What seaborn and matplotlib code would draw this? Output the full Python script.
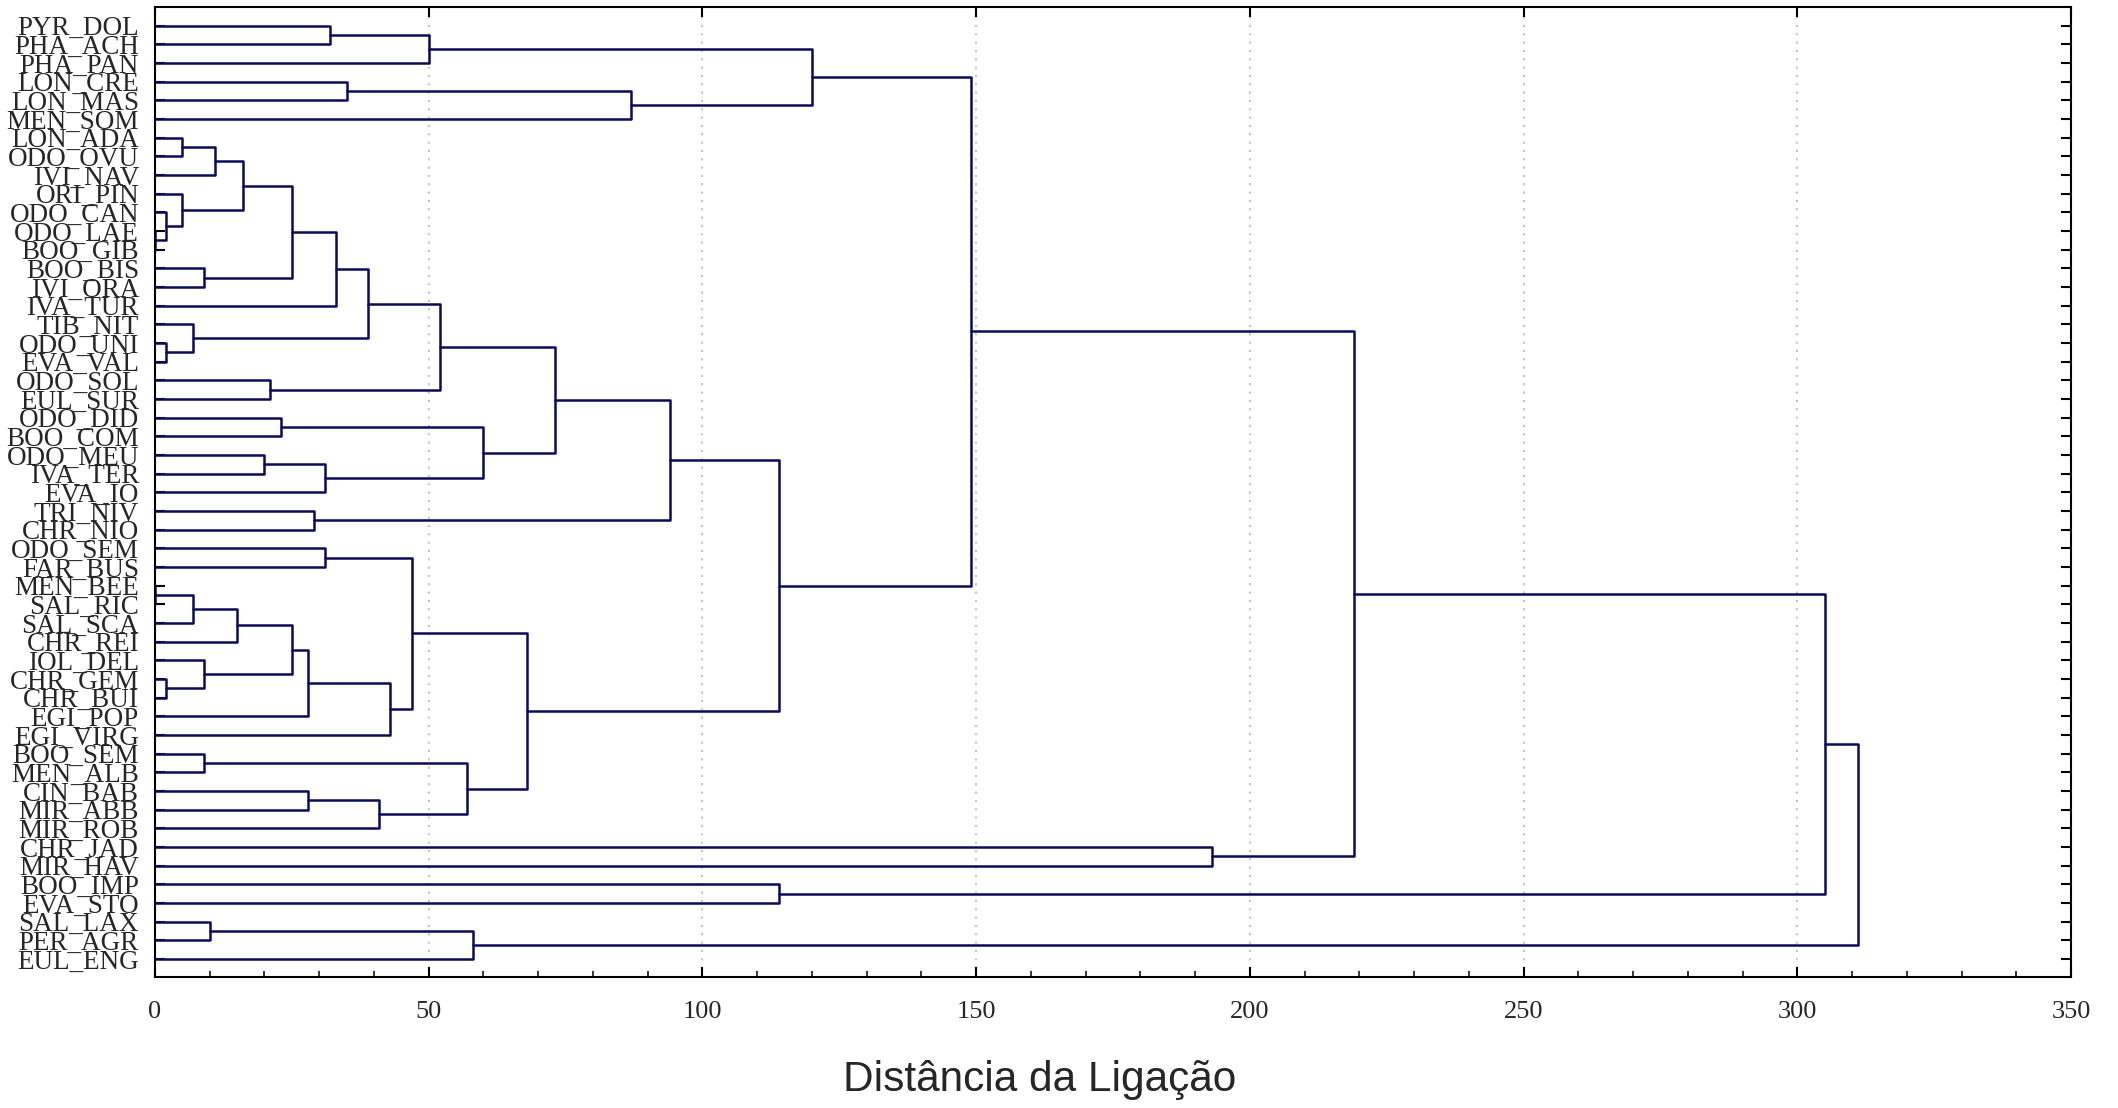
import numpy as np
import pandas as pd
import matplotlib
matplotlib.use("Agg")
import matplotlib.pyplot as plt
import seaborn as sns

# leaf order, top to bottom
leaves = [
    "PYR_DOL", "PHA_ACH", "PHA_PAN", "LON_CRE", "LON_MAS", "MEN_SOM",
    "LON_ADA", "ODO_OVU", "IVI_NAV", "ORI_PIN", "ODO_CAN", "ODO_LAE",
    "BOO_GIB", "BOO_BIS", "IVI_ORA", "IVA_TUR", "TIB_NIT", "ODO_UNI",
    "EVA_VAL", "ODO_SOL", "EUL_SUR", "ODO_DID", "BOO_COM", "ODO_MEU",
    "IVA_TER", "EVA_IO", "TRI_NIV", "CHR_NIO", "ODO_SEM", "FAR_BUS",
    "MEN_BEE", "SAL_RIC", "SAL_SCA", "CHR_REI", "IOL_DEL", "CHR_GEM",
    "CHR_BUI", "EGI_POP", "EGI_VIRG", "BOO_SEM", "MEN_ALB", "CIN_BAB",
    "MIR_ABB", "MIR_ROB", "CHR_JAD", "MIR_HAV", "BOO_IMP", "EVA_STO",
    "SAL_LAX", "PER_AGR", "EUL_ENG",
]

# joins: (left, right, linkage distance); "cN" = result of the N-th join
merges = [
    ("PYR_DOL", "PHA_ACH", 32),   # c0
    ("c0", "PHA_PAN", 50),        # c1
    ("LON_CRE", "LON_MAS", 35),   # c2
    ("c2", "MEN_SOM", 87),        # c3
    ("c1", "c3", 120),            # c4
    ("LON_ADA", "ODO_OVU", 5),    # c5
    ("c5", "IVI_NAV", 11),        # c6
    ("ODO_LAE", "BOO_GIB", 0),    # c7
    ("ODO_CAN", "c7", 2),         # c8
    ("ORI_PIN", "c8", 5),         # c9
    ("c6", "c9", 16),             # c10
    ("BOO_BIS", "IVI_ORA", 9),    # c11
    ("c10", "c11", 25),           # c12
    ("c12", "IVA_TUR", 33),       # c13
    ("ODO_UNI", "EVA_VAL", 2),    # c14
    ("TIB_NIT", "c14", 7),        # c15
    ("c13", "c15", 39),           # c16
    ("ODO_SOL", "EUL_SUR", 21),   # c17
    ("c16", "c17", 52),           # c18
    ("ODO_DID", "BOO_COM", 23),   # c19
    ("ODO_MEU", "IVA_TER", 20),   # c20
    ("c20", "EVA_IO", 31),        # c21
    ("c19", "c21", 60),           # c22
    ("c18", "c22", 73),           # c23
    ("TRI_NIV", "CHR_NIO", 29),   # c24
    ("c23", "c24", 94),           # c25
    ("ODO_SEM", "FAR_BUS", 31),   # c26
    ("MEN_BEE", "SAL_RIC", 0),    # c27
    ("c27", "SAL_SCA", 7),        # c28
    ("c28", "CHR_REI", 15),       # c29
    ("CHR_GEM", "CHR_BUI", 2),    # c30
    ("IOL_DEL", "c30", 9),        # c31
    ("c29", "c31", 25),           # c32
    ("c32", "EGI_POP", 28),       # c33
    ("c33", "EGI_VIRG", 43),      # c34
    ("c26", "c34", 47),           # c35
    ("BOO_SEM", "MEN_ALB", 9),    # c36
    ("CIN_BAB", "MIR_ABB", 28),   # c37
    ("c37", "MIR_ROB", 41),       # c38
    ("c36", "c38", 57),           # c39
    ("c35", "c39", 68),           # c40
    ("c25", "c40", 114),          # c41
    ("c4", "c41", 149),           # c42
    ("CHR_JAD", "MIR_HAV", 193),  # c43
    ("c42", "c43", 219),          # c44
    ("BOO_IMP", "EVA_STO", 114),  # c45
    ("c44", "c45", 305),          # c46
    ("SAL_LAX", "PER_AGR", 10),   # c47
    ("c47", "EUL_ENG", 58),       # c48
    ("c46", "c48", 311),          # c49
]

xticks = [0, 50, 100, 150, 200, 250, 300, 350]

# build the bracket polylines
pos = {name: i for i, name in enumerate(leaves)}
dist = {name: 0.0 for name in leaves}
rows = []
for k, (a, b, d) in enumerate(merges):
    ya, yb = pos[a], pos[b]
    for x, y in [(dist[a], ya), (d, ya), (d, yb), (dist[b], yb)]:
        rows.append({"link": k, "x": x, "y": y})
    pos[f"c{k}"] = (ya + yb) / 2
    dist[f"c{k}"] = d
seg = pd.DataFrame(rows)

sns.set_style("white")
plt.rcParams["font.family"] = ["Liberation Serif", "DejaVu Serif"]

fig = plt.figure(figsize=(21.18, 11.08), dpi=100)
ax = fig.add_axes([0.07318, 0.11823, 0.90463, 0.87545])

sns.lineplot(data=seg, x="x", y="y", units="link", estimator=None, sort=False,
             color="#0b0b5c", lw=1.8, ax=ax, legend=False)

ax.set_xlim(0, 350)
ax.set_ylim(len(leaves) - 0.04, -1.0)
ax.set_xlabel("")
ax.set_ylabel("")

ax.set_xticks(xticks)
ax.set_xticklabels([str(t) for t in xticks], fontsize=19)
ax.set_xticks(np.arange(0, 351, 10), minor=True)
ax.set_yticks(range(len(leaves)))
ax.set_yticklabels(leaves, fontsize=19.5)

ax.tick_params(axis="x", which="major", direction="in", length=7, width=1.5,
               top=True, bottom=True, pad=17, color="black")
ax.tick_params(axis="x", which="minor", direction="in", length=4, width=1.3,
               top=False, bottom=True)
ax.tick_params(axis="y", direction="in", length=7, width=1.5,
               left=True, right=True, pad=11.5, color="black")

for s in ax.spines.values():
    s.set_visible(True)
    s.set_color("black")
    s.set_linewidth(1.5)

ax.grid(axis="x", which="major", color="#c4c4c4", lw=1.5, linestyle=(0, (1, 3)))
ax.grid(axis="y", visible=False)
ax.set_axisbelow(True)

fig.text(1040 / 2118, 1 - 1091 / 1108, "Distância da Ligação",
         family="Liberation Sans", fontsize=30.5, ha="center", va="baseline")

fig.savefig("out.png", dpi=100)
